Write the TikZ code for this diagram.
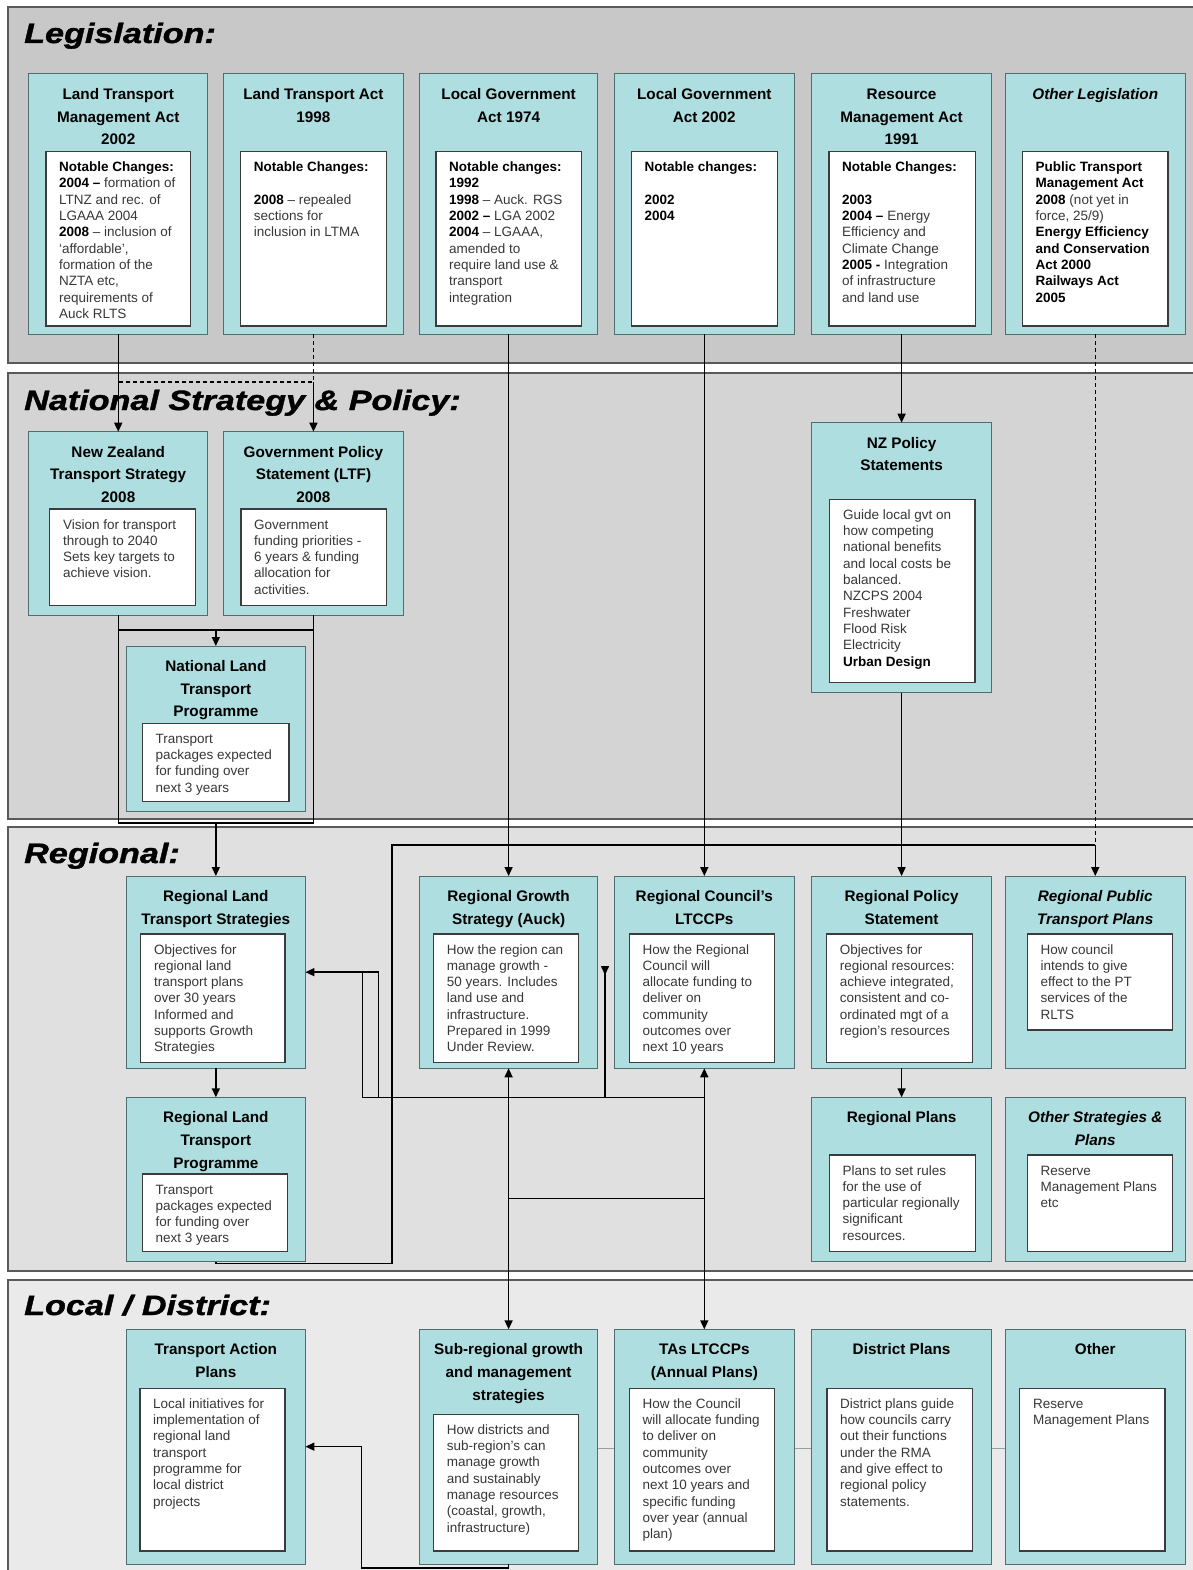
\documentclass[tikz,border=0pt]{standalone}
\usepackage{fontspec}
\setmainfont{Liberation Sans}
\newfontfamily\headfamily[FakeStretch=1.22,FakeBold=1.4]{Liberation Sans}
\usetikzlibrary{arrows.meta,calc}

\definecolor{bandA}{RGB}{200,200,200}
\definecolor{bandB}{RGB}{212,212,212}
\definecolor{bandC}{RGB}{224,224,224}
\definecolor{bandD}{RGB}{234,234,234}
\definecolor{bandline}{RGB}{90,90,90}
\definecolor{boxteal}{RGB}{174,222,224}
\definecolor{boxline}{RGB}{80,110,110}
\definecolor{innerline}{RGB}{60,60,60}
\definecolor{bodytext}{RGB}{55,55,55}
\definecolor{linkgray}{RGB}{150,160,160}

\newcommand\hdfont{\headfamily\bfseries\itshape\fontsize{28}{30}\selectfont}
\newcommand\ttlfont{\fontsize{15.3}{22.7}\selectfont\bfseries}
\newcommand\bodyfont{\fontsize{13.5}{16.3}\selectfont}
\newcommand\bt[1]{\textbf{\color{black}#1}}

\tikzset{
  band/.style={draw=bandline, line width=1.4pt},
  obox/.style={draw=boxline, fill=boxteal, line width=1pt, inner sep=0pt, outer sep=0pt, anchor=north west},
  ibox/.style={draw=innerline, fill=white, line width=1.3pt, inner sep=0pt, outer sep=0pt, anchor=north west},
  heading/.style={anchor=base west, inner sep=0pt, font=\hdfont},
  conn/.style={draw=black, line width=1.5pt},
  dconn/.style={conn, dash pattern=on 4pt off 3pt},
  link/.style={draw=linkgray, line width=0.8pt},
  Tri/.tip={Triangle[length=9pt,width=8pt]}
}

% outer teal unit: name, x1, y1, x2, y2, title
\newcommand\unitbox[6]{%
  \node[obox, minimum width={(#4-#2)*1pt}, minimum height={(#5-#3)*1pt}] (#1) at (#2,#3) {};
  \node[anchor=base, inner sep=0pt, font=\ttlfont] (#1-t) at ($(#1.north)+(0,25.5)$)
    {\parbox[t]{172pt}{\centering #6}};}

% inner white note: name, x1, y1, x2, y2, text
\newcommand\notebox[6]{%
  \node[ibox, minimum width={(#4-#2)*1pt}, minimum height={(#5-#3)*1pt}] (#1) at (#2,#3) {};
  \node[anchor=base west, inner sep=0pt, font=\bodyfont, text=bodytext] (#1-t) at ($(#1.north west)+(13,20)$)
    {\parbox[t]{180pt}{\raggedright #6}};}

\begin{document}
\begin{tikzpicture}[x=1pt,y=-1pt]
\useasboundingbox (0,0) rectangle (1192,1570);
\fill[white] (0,0) rectangle (1192,1570);

% ---------- tiers ----------
\draw[band, fill=bandA] (8,7) rectangle (1200,363);
\draw[band, fill=bandB] (8,373) rectangle (1200,819);
\draw[band, fill=bandC] (8,827) rectangle (1200,1271);
\draw[band, fill=bandD] (8,1280) rectangle (1200,1590);

\node[heading] (hLeg) at (24,43) {Legislation:};
\node[heading] (hNat) at (24,410) {National Strategy \& Policy:};
\node[heading] (hReg) at (24,863) {Regional:};
\node[heading] (hLoc) at (24,1315) {Local / District:};

% ---------- legislation ----------
\unitbox{ltma}{28.7}{74}{207.8}{334}{Land Transport\\Management Act\\2002}
\notebox{ltmaN}{45.9}{151.7}{190.6}{326}{\bt{Notable Changes:}\\\bt{2004 –} formation of\\LTNZ and rec. of\\LGAAA 2004\\\bt{2008} – inclusion of\\‘affordable’,\\formation of the\\NZTA etc,\\requirements of\\Auck RLTS}

\unitbox{lta}{223.9}{74}{403}{334}{Land Transport Act\\1998}
\notebox{ltaN}{240.7}{151.7}{386.5}{326}{\bt{Notable Changes:}\\\mbox{}\\\bt{2008} – repealed\\sections for\\inclusion in LTMA}

\unitbox{lgaA}{419.4}{74}{597.8}{334}{Local Government\\Act 1974}
\notebox{lgaAN}{436}{151.7}{581.7}{326}{\bt{Notable changes:}\\\bt{1992}\\\bt{1998} – Auck. RGS\\\bt{2002 –} LGA 2002\\\bt{2004} – LGAAA,\\amended to\\require land use \&\\transport\\integration}

\unitbox{lgaB}{614.2}{74}{794.4}{334}{Local Government\\Act 2002}
\notebox{lgaBN}{631.3}{151.7}{777.3}{326}{\bt{Notable changes:}\\\mbox{}\\\bt{2002}\\\bt{2004}}

\unitbox{rma}{811.9}{74}{991.3}{334}{Resource\\Management Act\\1991}
\notebox{rmaN}{829}{151.7}{975.3}{326}{\bt{Notable Changes:}\\\mbox{}\\\bt{2003}\\\bt{2004 –} Energy\\Efficiency and\\Climate Change\\\bt{2005 -} Integration\\of infrastructure\\and land use}

\unitbox{othleg}{1005.4}{74}{1185.1}{334}{\itshape Other Legislation}
\notebox{othlegN}{1022.5}{151.7}{1168}{326}{\bt{Public Transport}\\\bt{Management Act}\\\bt{2008} (not yet in\\force, 25/9)\\\bt{Energy Efficiency}\\\bt{and Conservation}\\\bt{Act 2000}\\\bt{Railways Act}\\\bt{2005}}

% ---------- national ----------
\unitbox{nzts}{28.7}{431.7}{207.8}{615}{New Zealand\\Transport Strategy\\2008}
\notebox{nztsN}{49.8}{509}{195.2}{605.7}{Vision for transport\\through to 2040\\Sets key targets to\\achieve vision.}

\unitbox{gps}{223.9}{431.7}{403}{615}{Government Policy\\Statement (LTF)\\2008}
\notebox{gpsN}{241}{509}{386.5}{605.7}{Government\\funding priorities -\\6 years \& funding\\allocation for\\activities.}

\unitbox{nltp}{126.3}{646}{305.4}{811.7}{National Land\\Transport\\Programme}
\notebox{nltpN}{142.4}{723.3}{289}{801.7}{Transport\\packages expected\\for funding over\\next 3 years}

\unitbox{nzps}{811.9}{422.7}{991.3}{692.7}{NZ Policy\\Statements}
\notebox{nzpsN}{829.8}{499.3}{975}{682.3}{Guide local gvt on\\how competing\\national benefits\\and local costs be\\balanced.\\NZCPS 2004\\Freshwater\\Flood Risk\\Electricity\\\bt{Urban Design}}

% ---------- regional ----------
\unitbox{rlts}{126.3}{876}{305.4}{1068.3}{Regional Land\\Transport Strategies}
\notebox{rltsN}{140.8}{934}{285}{1062.3}{Objectives for\\regional land\\transport plans\\over 30 years\\Informed and\\supports Growth\\Strategies}

\unitbox{rgs}{419.4}{876}{597.8}{1068.3}{Regional Growth\\Strategy (Auck)}
\notebox{rgsN}{433.6}{934}{578.6}{1062.3}{How the region can\\manage growth -\\50 years. Includes\\land use and\\infrastructure.\\Prepared in 1999\\Under Review.}

\unitbox{rcl}{614.2}{876}{794.4}{1068.3}{Regional Council’s\\LTCCPs}
\notebox{rclN}{629.4}{934}{774.6}{1062.3}{How the Regional\\Council will\\allocate funding to\\deliver on\\community\\outcomes over\\next 10 years}

\unitbox{rps}{811.9}{876}{991.3}{1068.3}{Regional Policy\\Statement}
\notebox{rpsN}{826.7}{934}{972.3}{1062.3}{Objectives for\\regional resources:\\achieve integrated,\\consistent and co-\\ordinated mgt of a\\region’s resources}

\unitbox{rptp}{1005.4}{876}{1185.1}{1068.3}{\itshape Regional Public\\\itshape Transport Plans}
\notebox{rptpN}{1027.4}{934}{1172.6}{1030}{How council\\intends to give\\effect to the PT\\services of the\\RLTS}

\unitbox{rltp}{126.3}{1097.3}{305.4}{1261.7}{Regional Land\\Transport\\Programme}
\notebox{rltpN}{142.4}{1174}{287.8}{1251.7}{Transport\\packages expected\\for funding over\\next 3 years}

\unitbox{rplans}{811.9}{1097.3}{991.3}{1261.7}{Regional Plans}
\notebox{rplansN}{829.4}{1155}{975.3}{1251.7}{Plans to set rules\\for the use of\\particular regionally\\significant\\resources.}

\unitbox{rother}{1005.4}{1097.3}{1185.1}{1261.7}{\itshape Other Strategies \&\\\itshape Plans}
\notebox{rotherN}{1027.4}{1155}{1172.6}{1251.7}{Reserve\\Management Plans\\etc}

% ---------- local / district ----------
\draw[link] (597.8,1448) -- (614.2,1448);
\draw[link] (794.4,1448) -- (811.9,1448);
\draw[link] (991.3,1448) -- (1005.4,1448);

\unitbox{tap}{126.3}{1329.3}{305.4}{1564}{Transport Action\\Plans}
\notebox{tapN}{140}{1388.3}{285}{1551}{Local initiatives for\\implementation of\\regional land\\transport\\programme for\\local district\\projects}

\unitbox{subreg}{419.4}{1329.3}{597.8}{1564}{Sub-regional growth\\and management\\strategies}
\notebox{subregN}{433.6}{1414.3}{578.6}{1551}{How districts and\\sub-region’s can\\manage growth\\and sustainably\\manage resources\\(coastal, growth,\\infrastructure)}

\unitbox{tas}{614.2}{1329.3}{794.4}{1564}{TAs LTCCPs\\(Annual Plans)}
\notebox{tasN}{629.4}{1388.3}{774.6}{1551}{How the Council\\will allocate funding\\to deliver on\\community\\outcomes over\\next 10 years and\\specific funding\\over year (annual\\plan)}

\unitbox{dplans}{811.9}{1329.3}{991.3}{1564}{District Plans}
\notebox{dplansN}{827}{1388.3}{972.3}{1551}{District plans guide\\how councils carry\\out their functions\\under the RMA\\and give effect to\\regional policy\\statements.}

\unitbox{dother}{1005.4}{1329.3}{1185.1}{1564}{Other}
\notebox{dotherN}{1019.8}{1388.3}{1165}{1551}{Reserve\\Management Plans}

% ---------- connectors ----------
\coordinate (ltaBar) at (0,382);
\coordinate (natBar) at (0,630);
\coordinate (regBar) at (0,823);
\coordinate (ptBar) at (0,845);
\coordinate (loopBar) at (0,1097.7);
\coordinate (midBar) at (0,1198.3);
\coordinate (rltpBar) at (0,1263.3);
\coordinate (locBar) at (0,1568);
\coordinate (loopL) at (362.7,1097.7);
\coordinate (loopR) at (378.3,1097.7);

% legislation -> national
\draw[conn,-Tri] (ltma.south) -- (nzts.north);
\draw[dconn] (lta.south) -- (lta.south |- ltaBar) -- (ltma.south |- ltaBar);
\draw[conn,-Tri] (gps.north |- ltaBar) -- (gps.north);
\draw[conn,-Tri] (rma.south) -- (nzps.north);

% national -> national / regional
\draw[conn] (nzts.south) -- (nzts.south |- regBar) -- (gps.south |- regBar) -- (gps.south);
\draw[conn] (nzts.south |- natBar) -- (gps.south |- natBar);
\draw[conn,-Tri] (nltp.north |- natBar) -- (nltp.north);
\draw[conn,-Tri] (rlts.north |- regBar) -- (rlts.north);
\draw[conn,-Tri] (nzps.south) -- (rps.north);

% legislation -> regional
\draw[conn,-Tri] (lgaA.south) -- (rgs.north);
\draw[conn,-Tri] (lgaB.south) -- (rcl.north);
\draw[dconn] (othleg.south) -- (othleg.south |- ptBar);
\draw[conn,-Tri] (rptp.north |- ptBar) -- (rptp.north);
\draw[conn] (rltp.south) -- (rltp.south |- rltpBar) -- (392,1263.3) -- (392,845) -- (rptp.north |- ptBar);

% within regional
\draw[conn,-Tri] (rlts.south) -- (rltp.north);
\draw[conn,-Tri] (rps.south) -- (rplans.north);
\draw[conn,-Tri] (rcl.south |- loopBar) -- (loopL) |- (rlts.east);
\draw[conn] (loopL |- rlts.east) -- (loopR |- rlts.east) -- (loopR);
\draw[conn,-{Triangle[length=9pt,width=8pt,reversed]}] (605,1097.7) -- (605,966);

% regional <-> local
\draw[conn,Tri-Tri] (rgs.south) -- (subreg.north);
\draw[conn,Tri-Tri] (rcl.south) -- (tas.north);
\draw[conn] (rgs.south |- midBar) -- (rcl.south |- midBar);
\draw[conn,-Tri] (subreg.south) -- (subreg.south |- locBar) -- (361.7,1568) |- (tap.east);
\end{tikzpicture}
\end{document}
